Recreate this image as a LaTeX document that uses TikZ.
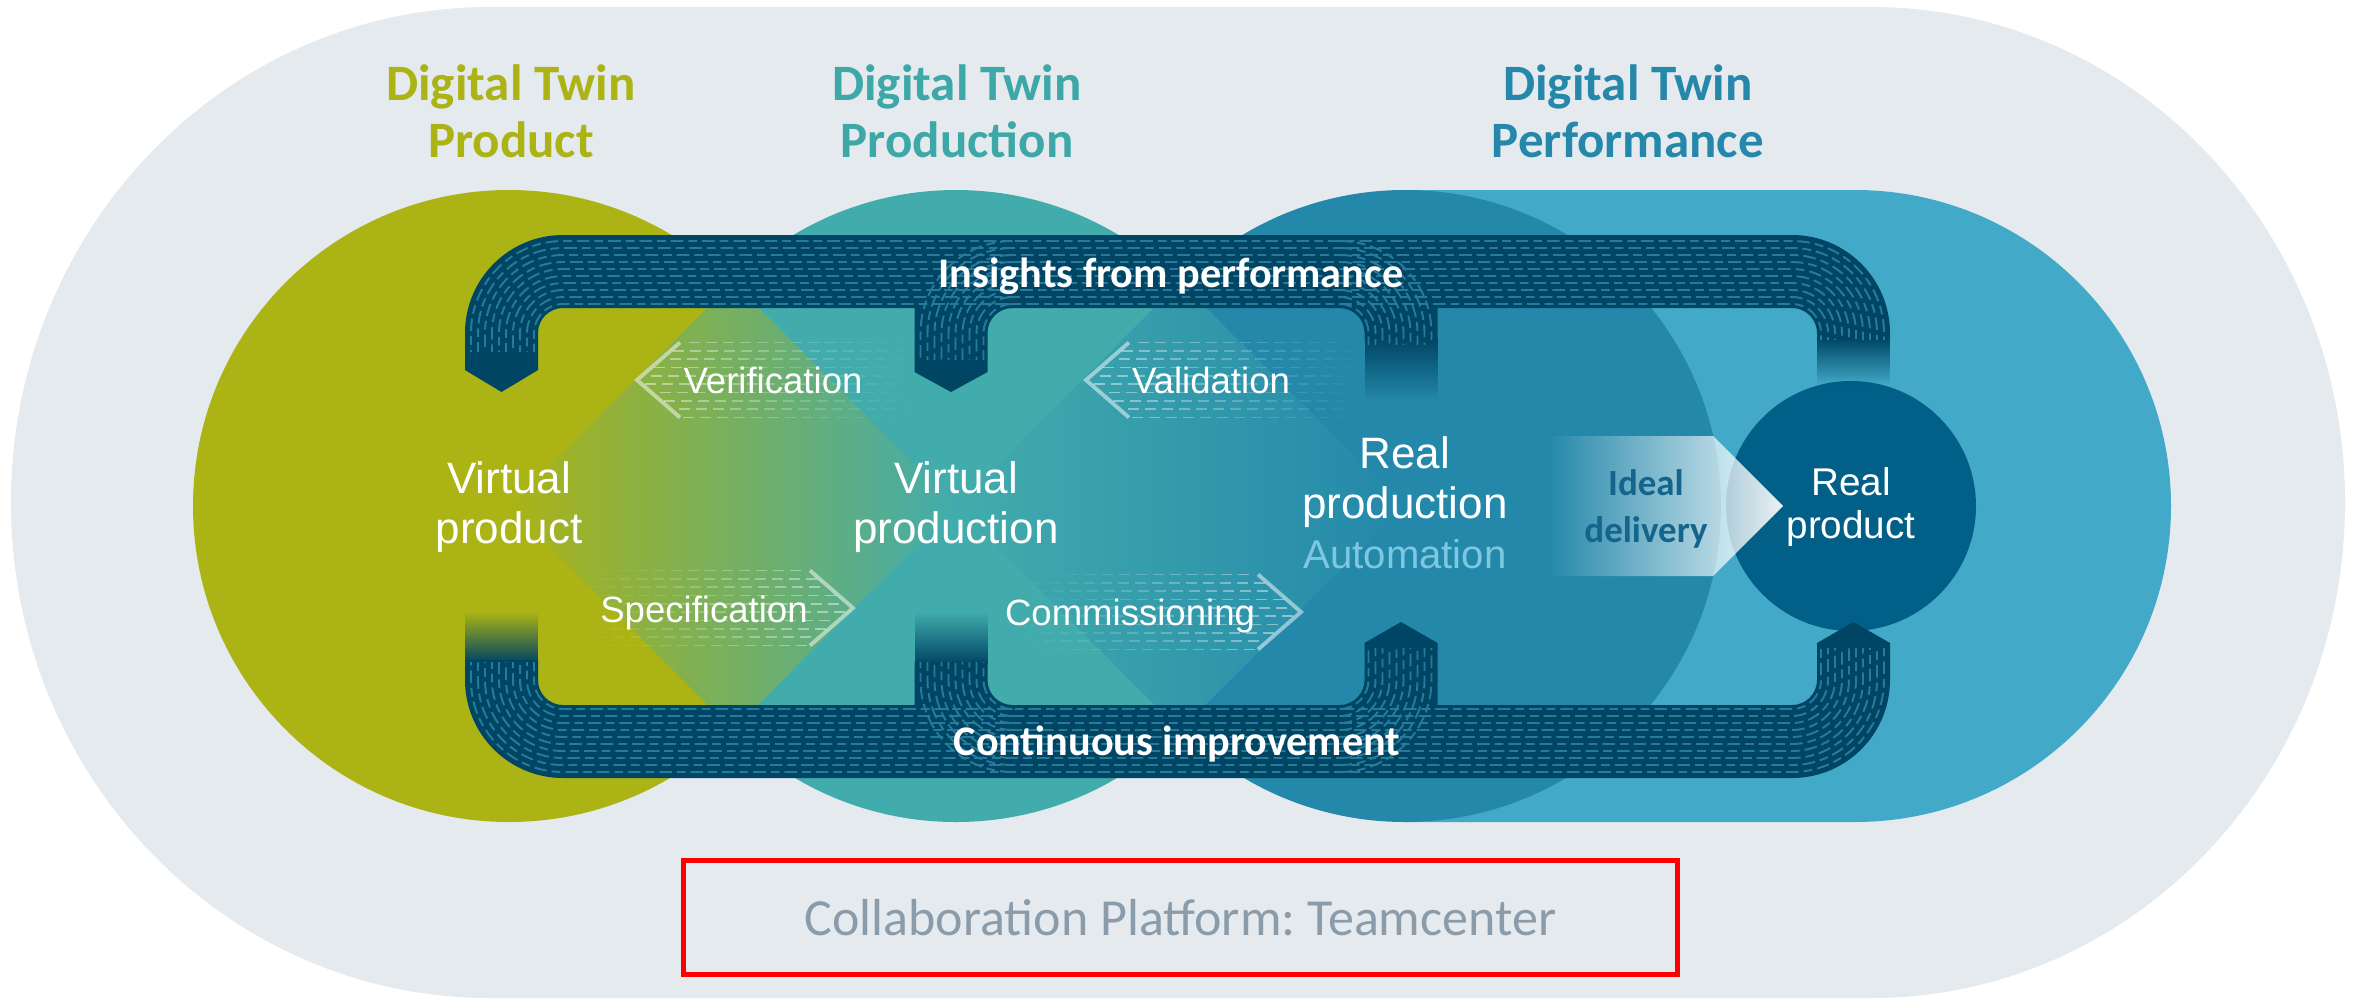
\documentclass[tikz,border=0pt]{standalone}
\usepackage{fontspec}
\setmainfont{Liberation Sans}
\newfontfamily\calfont{Carlito}
\usetikzlibrary{fadings}
\frenchspacing

\definecolor{bggray}{RGB}{229,234,238}
\definecolor{olivetwin}{RGB}{171,179,21}
\definecolor{tealtwin}{RGB}{66,172,172}
\definecolor{perfblue}{RGB}{36,136,170}
\definecolor{skyblue}{RGB}{66,170,200}
\definecolor{prodblue}{RGB}{2,95,135}
\definecolor{bandnavy}{RGB}{0,69,100}
\definecolor{banddash}{RGB}{38,122,154}
\definecolor{autoblue}{RGB}{125,200,225}
\definecolor{idealblue}{RGB}{20,100,140}
\definecolor{platgray}{RGB}{138,155,170}
\definecolor{titleteal}{RGB}{62,168,168}
\definecolor{titleblue}{RGB}{37,136,171}
\definecolor{mixgreen}{RGB}{128,176,122}
\definecolor{mixblue}{RGB}{52,156,172}

\tikzfading[name=fadeup, top color=transparent!100, bottom color=transparent!0]
\tikzfading[name=fadedown, top color=transparent!0, bottom color=transparent!100]
\tikzfading[name=fadeinright, left color=transparent!100, right color=transparent!8]

\tikzset{
  twintitle/.style={inner sep=0pt, align=center, font=\calfont\bfseries\fontsize{14.5}{16.2}\selectfont},
  stagetext/.style={inner sep=0pt, align=center, text=white, font=\fontsize{12.5}{14.2}\selectfont},
  chevtext/.style={inner sep=0pt, text=white, font=\fontsize{10.4}{12}\selectfont},
  bandtext/.style={inner sep=0pt, text=white, font=\calfont\bfseries\fontsize{12}{14}\selectfont},
  banddashes/.style={banddash, line width=0.55pt, dash pattern=on 3.6pt off 1.4pt on 2.5pt off 1.4pt},
  chevdash/.style={white, line width=0.5pt},
  chevedge/.style={white, opacity=0.5, line width=1.1pt},
  platbox/.style={draw=red, line width=1.4pt, minimum width=9.94cm, minimum height=1.14cm,
    text=platgray, font=\calfont\fontsize{14.8}{17}\selectfont}
}

\begin{document}
\begin{tikzpicture}[x=0.01cm, y=0.01cm]
\useasboundingbox (0,0) rectangle (2359,-999);
\fill[white] (0,0) rectangle (2359,-999);

% platform ground
\fill[bggray] (490,-7) -- (1871,-7) arc[start angle=90,end angle=-90,x radius=474,y radius=495.5]
  -- (490,-998) arc[start angle=270,end angle=90,x radius=479,y radius=495.5] -- cycle;

% the three twins
\fill[skyblue] (1405,-190) -- (1855,-190) arc[start angle=90,end angle=-90,radius=316] -- (1405,-822) -- cycle;
\fill[perfblue] (1405,-506) circle[radius=316];
\fill[tealtwin] (956,-506) circle[radius=316];
\fill[olivetwin] (509,-506) circle[radius=316];
\shade[left color=olivetwin, middle color=mixgreen, right color=tealtwin] (509,-506) -- (733,-282) -- (956,-506) -- (733,-730) -- cycle;
\shade[left color=tealtwin, middle color=mixblue, right color=perfblue] (956,-506) -- (1180,-282) -- (1405,-506) -- (1180,-730) -- cycle;

% real product and delivery
\fill[prodblue] (1851,-506) circle[radius=125];
\fill[white, path fading=fadeinright] (1547,-436) -- (1713,-436) -- (1783,-506) -- (1713,-576) -- (1547,-576) -- cycle;

% chevrons
\foreach \tx/\ty/\dir in {637/380/1, 1086/380/1, 853/608/-1, 1301/612/-1}{
  \foreach \k in {0,...,9}{
    \pgfmathsetmacro{\v}{(\k-4.5)*8.33}
    \pgfmathsetmacro{\xs}{43*abs(\v)/37.5+3+mod(\k,2)*6}
    \foreach \s in {0,17,...,255}{
      \pgfmathsetmacro{\a}{\xs+\s}
      \pgfmathsetmacro{\op}{max(0,0.48*(1-\a/270))}
      \draw[chevdash, opacity=\op] (\tx+\dir*\a,\v-\ty) -- ++(\dir*11,0);
    }
  }
  \draw[chevedge] (\tx+\dir*43,-\ty-37.5) -- (\tx,-\ty) -- (\tx+\dir*43,37.5-\ty);
}

% insights band
\fill[bandnavy] (465,-370) -- (465,-333) arc[start angle=180,end angle=90,radius=98]
  -- (1792,-235) arc[start angle=90,end angle=0,radius=98] -- (1890,-340) -- (1817,-340)
  -- (1817,-333) arc[start angle=0,end angle=90,radius=25] -- (563,-308)
  arc[start angle=90,end angle=180,radius=25] -- (538,-370) -- (501.5,-392) -- cycle;
\fill[bandnavy, path fading=fadedown] (1817,-338) rectangle (1890,-385);
\fill[bandnavy] (914.5,-305) -- (914.5,-372) -- (951,-392) -- (987.5,-372) -- (987.5,-333)
  arc[start angle=180,end angle=90,radius=25] -- (1012.5,-305) -- cycle;
\fill[bandnavy] (1339.5,-305) -- (1339.5,-308) arc[start angle=90,end angle=0,radius=25]
  -- (1364.5,-340) -- (1437.5,-340) -- (1437.5,-305) -- cycle;
\fill[bandnavy, path fading=fadedown] (1364.5,-338) rectangle (1437.5,-400);

% improvement band
\fill[bandnavy] (465,-660) -- (465,-680) arc[start angle=180,end angle=270,radius=98]
  -- (1792,-778) arc[start angle=270,end angle=360,radius=98] -- (1890,-643) -- (1853.5,-622)
  -- (1817,-643) -- (1817,-680) arc[start angle=0,end angle=-90,radius=25] -- (563,-705)
  arc[start angle=270,end angle=180,radius=25] -- (538,-660) -- cycle;
\fill[bandnavy, path fading=fadeup] (465,-612) rectangle (538,-662);
\fill[bandnavy] (914.5,-662) -- (914.5,-708) -- (1012.5,-708) -- (1012.5,-705)
  arc[start angle=270,end angle=180,radius=25] -- (987.5,-662) -- cycle;
\fill[bandnavy, path fading=fadeup] (914.5,-612) rectangle (987.5,-664);
\fill[bandnavy] (1339.5,-708) -- (1339.5,-705) arc[start angle=270,end angle=360,radius=25]
  -- (1364.5,-643) -- (1401,-622) -- (1437.5,-643) -- (1437.5,-708) -- cycle;

% band texture
\foreach \d in {4,11,...,67}{
  \pgfmathsetmacro{\r}{25+\d}
  \draw[banddashes, dash phase=\d*0.31pt] (538-\d,-352) -- (538-\d,-333) arc[start angle=180,end angle=90,radius=\r]
    -- (1792,\d-308) arc[start angle=90,end angle=0,radius=\r] -- (1817+\d,-340);
  \draw[banddashes] (1012.5,\d-308) arc[start angle=90,end angle=180,radius=\r] -- (987.5-\d,-360);
  \draw[banddashes] (1339.5,\d-308) arc[start angle=90,end angle=0,radius=\r] -- (1364.5+\d,-345);
  \draw[banddashes, dash phase=\d*0.23pt] (538-\d,-662) -- (538-\d,-680) arc[start angle=180,end angle=270,radius=\r]
    -- (1792,-705-\d) arc[start angle=270,end angle=360,radius=\r] -- (1817+\d,-648);
  \draw[banddashes] (1012.5,-705-\d) arc[start angle=270,end angle=180,radius=\r] -- (987.5-\d,-662);
  \draw[banddashes] (1339.5,-705-\d) arc[start angle=270,end angle=360,radius=\r] -- (1364.5+\d,-648);
}

% texts
\node[twintitle, text=olivetwin] (ttlproduct) at (511,-111) {Digital Twin\\Product};
\node[twintitle, text=titleteal] (ttlproduction) at (957,-111) {Digital Twin\\Production};
\node[twintitle, text=titleblue] (ttlperformance) at (1628,-111) {Digital Twin\\Performance};

\node[bandtext] (insights) at (1171,-276) {Insights from performance};
\node[bandtext] (improve) at (1177,-744) {Continuous improvement};

\node[chevtext] (verif) at (773,-380) {Verification};
\node[chevtext] (valid) at (1211,-380) {Validation};
\node[chevtext] (spec) at (704,-613) {Specification};
\node[chevtext] (comm) at (1130,-616) {Commissioning};

\node[stagetext] (vproduct) at (509,-507) {Virtual\\product};
\node[stagetext] (vproduction) at (956,-507) {Virtual\\production};
\node[stagetext] (rproduction) at (1405,-503) {Real\\production\\{\color{autoblue}\fontsize{11.4}{13.6}\selectfont Automation}};
\node[stagetext, font=\fontsize{11}{12.2}\selectfont] (rproduct) at (1851,-507) {Real\\product};
\node[inner sep=0pt, align=center, text=idealblue, font=\calfont\bfseries\fontsize{10.5}{13.4}\selectfont] (ideal) at (1646,-509) {Ideal\\delivery};

\node[platbox] (platform) at (1180.5,-917.5) {Collaboration Platform: Teamcenter};
\end{tikzpicture}
\end{document}
